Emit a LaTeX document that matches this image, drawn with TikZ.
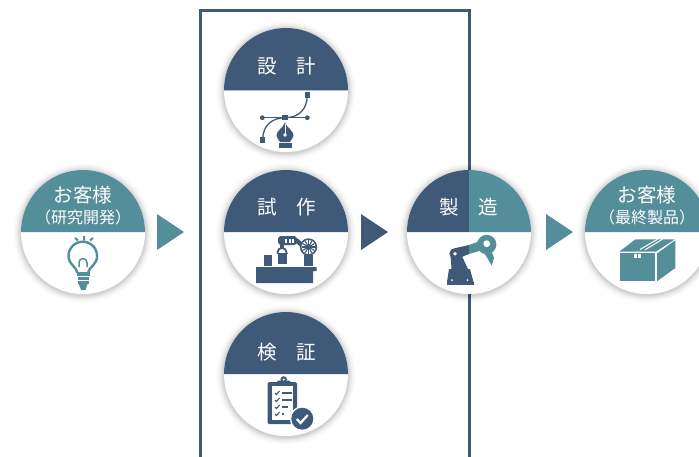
\documentclass[tikz,border=0pt]{standalone}
\usepackage{fontspec}
\setmainfont{Noto Sans CJK JP}
\definecolor{navy}{HTML}{3F5A78}
\definecolor{teal2}{HTML}{558E9B}
\definecolor{seam}{HTML}{AEBBC8}
\tikzset{
  disc/.style={circle,fill=white,minimum size=124pt,inner sep=0pt,outer sep=0pt},
  title/.style={text=white,inner sep=0pt,font=\fontsize{19.5}{20}\selectfont},
  subtitle/.style={text=white,inner sep=0pt,font=\fontsize{16}{17}\selectfont},
  frameline/.style={draw=navy,line width=3pt},
}
\newcommand{\roundel}[3]{%
  \coordinate (#1s) at (#2,#3);
  \foreach \r/\o in {70/0.008,69/0.012,68/0.016,67/0.02,66/0.025,65/0.03,64/0.035,63/0.04}
    \fill[black,opacity=\o] ($(#1s)+(0,1)$) circle (\r);
  \node[disc] (#1) at (#2,#3) {};
}
\newcommand{\halftop}[2]{%
  \fill[#2] (#1.west) arc[start angle=180,end angle=360,radius=62] -- cycle;
}
\usetikzlibrary{calc}
\begin{document}
\begin{tikzpicture}[x=1pt,y=-1pt]
\useasboundingbox (0,0) rectangle (699,456);
\clip (0,0) rectangle (699,456);
\fill[white] (0,0) rectangle (699,456);
% frame
\draw[frameline] (200,470) -- (200,10.5) -- (469,10.5) -- (469,470);
% arrows
\fill[teal2] (157,214) -- (184,232) -- (157,250) -- cycle;
\fill[navy] (361,214) -- (388,232) -- (361,250) -- cycle;
\fill[teal2] (546,214) -- (573,232) -- (546,250) -- cycle;
% roundels
\roundel{a}{83}{232}
\halftop{a}{teal2}
\node[title] (a1) at (83,195) {お客様};
\node[subtitle] (a2) at (83,217) {（研究開発）};
\roundel{b}{286}{90}
\halftop{b}{navy}
\draw[seam,line width=0.8pt] (b.west) -- (b.east);
\node[title] (b1) at (286.5,66) {設\hspace{20pt}計};
\roundel{c}{286}{232}
\halftop{c}{navy}
\node[title] (c1) at (286.5,207) {試\hspace{20pt}作};
\roundel{d}{286}{374}
\halftop{d}{navy}
\node[title] (d1) at (286.5,352) {検\hspace{20pt}証};
\roundel{e}{469}{232}
\begin{scope}
\clip (400,160) rectangle (469,240);
\halftop{e}{navy}
\end{scope}
\begin{scope}
\clip (469,160) rectangle (540,240);
\halftop{e}{teal2}
\end{scope}
\node[title] (e1) at (469,207) {製\hspace{20pt}造};
\roundel{f}{647}{232}
\halftop{f}{teal2}
\node[title] (f1) at (647,195) {お客様};
\node[subtitle] (f2) at (647,217) {（最終製品）};
% bulb
\begin{scope}[teal2]
\draw[line width=2.4pt] (77.5,273) .. controls (77,267) and (68.5,265) .. (68.5,256) arc[start angle=180,end angle=360,radius=14.3] .. controls (97.1,265) and (88.5,267) .. (88,273);
\fill (76.5,272) rectangle (89.5,276);
\fill (78,276.6) rectangle (88.5,280);
\fill (78,280.6) rectangle (88.5,284);
\fill (79,284) -- (87.5,284) -- (85.5,290) -- (81,290) -- cycle;
\draw[line width=1.5pt] (79,267) -- (79,262.5) arc[start angle=180,end angle=360,radius=4] -- (87,267);
\draw[line width=2pt] (84,236) -- (84,240.5) (75,238) -- (78,240.5) (93,238) -- (90,240.5);
\end{scope}
% pen tool
\begin{scope}[navy]
\draw[line width=1.3pt] (262.5,117.7) -- (307.5,117.7);
\draw[line width=1.3pt] (285,117.7) .. controls (300,117.7) and (307.3,108) .. (307.3,95);
\draw[line width=1.3pt] (285,117.7) .. controls (272,118) and (262.7,125) .. (262.7,140);
\fill (262.3,117.7) circle (2.4);
\fill (307.3,117.7) circle (2.4);
\fill (282.3,115) rectangle (287.7,120.4);
\fill (304.6,92.3) rectangle (310,97.7);
\fill (260,137.3) rectangle (265.4,142.7);
\fill (285,122.5) .. controls (283,128) and (276,131) .. (276.5,136) .. controls (277,138) and (279,140) .. (280,142) -- (290,142) .. controls (291,140) and (293,138) .. (293.5,136) .. controls (294,131) and (287,128) .. (285,122.5) -- cycle;
\fill[white] (285,135) circle (1.9);
\draw[white,line width=0.6pt] (285,124) -- (285,134);
\fill (279,143) rectangle (291.5,147.5);
\end{scope}
% prototype
\begin{scope}[navy]
\fill (256,267) -- (316.7,267) -- (316.7,271) -- (313,271) -- (313,283) -- (256,283) -- cycle;
\fill (264,255) rectangle (271.5,265.5);
\fill (278,254) rectangle (286.5,263.5);
\draw[line width=1.8pt] (277.5,253) .. controls (278,249) and (280,248) .. (282,248) .. controls (284,248) and (286,249) .. (286.5,253);
\draw[line width=1.8pt] (276.5,253.5) -- (288,253.5);
\fill (280,244) rectangle (284,248);
\fill[rounded corners=3pt] (278,236) rectangle (297,245);
\fill[white] (285,238.5) rectangle (287,242.5);
\fill[white] (288.5,238.5) rectangle (290.5,242.5);
\fill[white] (292,238.5) rectangle (294,242.5);
\draw[line width=4.5pt] (296,240) -- (303,246);
\fill (304,255) rectangle (313,266);
\fill (308.5,247) circle (8.7);
\fill[white] (308.5,247) circle (7);
\fill (308.5,247) circle (2);
\foreach \a in {0,30,...,330}
  \draw[line width=1.1pt] (308.5,247) -- ++(\a:7);
\end{scope}
% clipboard
\begin{scope}[navy]
\fill[rounded corners=1.5pt] (267.5,382) rectangle (297,424);
\fill[white] (271.5,386) rectangle (292.5,419.5);
\fill[rounded corners=1pt] (277,380.5) rectangle (290.5,385.5);
\fill (283.7,379.5) circle (3.3);
\fill[white] (283.7,379.5) circle (1.2);
\foreach \yy/\xe in {393/296,400/296,407/292,414/288}{
  \draw[line width=1.1pt] (275,\yy) -- (276.5,\yy+1.5) -- (279.5,\yy-2);
  \draw[line width=1.8pt] (282,\yy) -- (\xe-4,\yy);
}
\fill[white] (302.3,418.7) circle (12.5);
\fill (302.3,418.7) circle (11);
\draw[white,line width=2.2pt] (296.8,419) -- (300.5,423) -- (307.8,415);
\end{scope}
% robot
\begin{scope}[navy]
\fill (449,269) -- (470,269) -- (473.5,282) -- (447,282) -- cycle;
\fill (446.5,282) rectangle (474,284.5);
\fill (450.5,255) -- (460,252) -- (468,269) -- (451.5,269) -- cycle;
\fill (455,253.7) circle (5.6);
\fill (455,248.2) -- (469,245) -- (469,254) -- (458,258.5) -- cycle;
\fill[white] (455,253.7) circle (1.8);
\fill[white] (452,280) circle (1);
\fill[white] (467.5,280) circle (1);
\end{scope}
\fill[teal2] (469,245) -- (480,241) -- (481,250.5) -- (469,254) -- cycle;
\fill[teal2] (486.7,244.5) circle (9.7);
\fill[teal2] (483,251) -- (491,250) -- (494,258) -- (491.7,265.5) -- (488.5,260) -- cycle;
\fill[white] (486.7,243.7) circle (3.4);
% box
\begin{scope}[teal2]
\fill (619.5,252.8) rectangle (655.3,281.3);
\fill (619.5,251.5) -- (635.5,239.3) -- (674.7,239.3) -- (656.3,251.5) -- cycle;
\fill (657,253.4) -- (675.3,240.3) -- (675.3,268) -- (657,281.3) -- cycle;
\draw[white,line width=1pt] (640,249.5) -- (657.5,239.3) (645,249.8) -- (662.5,239.3);
\fill[white] (633.7,254.3) rectangle (637,257.7);
\fill[white] (637.8,254.3) rectangle (641,257.7);
\end{scope}
\end{tikzpicture}
\end{document}
